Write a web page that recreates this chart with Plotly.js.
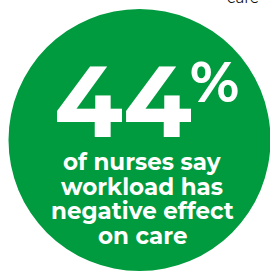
<!DOCTYPE html>
<html><head><meta charset="utf-8">
<script src="https://cdn.plot.ly/plotly-3.0.1.min.js"></script>
<style>html,body{margin:0;padding:0;background:#fff;}#chart{width:270px;height:274px;}</style>
</head><body><div id="chart"></div>
<script>
const statValue = [44];
const statUnit = ["%"];
const statLines = ["of nurses say", "workload has", "negative effect", "on care"];
const fragmentText = ["care"];

const green = "#009b3e";
const font = "Montserrat, 'Open Sans', Lato, sans-serif";

const annotations = [];
annotations.push({x: 123, y: 101, xref: 'x', yref: 'y', text: '<b>' + statValue[0] + '</b>', showarrow: false,
  font: {family: font, size: 100, color: '#fff', weight: 900}, xanchor: 'center', yanchor: 'middle'});
annotations.push({x: 214, y: 82, xref: 'x', yref: 'y', text: '<b>' + statUnit[0] + '</b>', showarrow: false,
  font: {family: font, size: 56, color: '#fff', weight: 900}, xanchor: 'center', yanchor: 'middle'});
statLines.forEach((t, i) => {
  annotations.push({x: 142, y: 162 + i * 24.7, xref: 'x', yref: 'y', text: '<b>' + t + '</b>', showarrow: false,
    font: {family: font, size: 23, color: '#fff'}, xanchor: 'center', yanchor: 'middle'});
});
annotations.push({x: 243 / 270, y: 1 + 2.5 / 274, xref: 'paper', yref: 'paper', text: fragmentText[0], showarrow: false,
  font: {family: font, size: 15, color: '#111'}, xanchor: 'center', yanchor: 'middle'});

Plotly.newPlot('chart', [{x: [0], y: [0], mode: 'markers', marker: {opacity: 0}, hoverinfo: 'skip', showlegend: false}], {
  width: 270, height: 274,
  margin: {l: 0, r: 0, t: 0, b: 0},
  paper_bgcolor: '#fff', plot_bgcolor: '#fff',
  xaxis: {range: [0, 270], visible: false, fixedrange: true},
  yaxis: {range: [274, 0], visible: false, fixedrange: true},
  shapes: [{type: 'circle', xref: 'x', yref: 'y', x0: 8.5, x1: 270.5, y0: 9, y1: 271,
    fillcolor: green, line: {width: 0}, layer: 'below'}],
  annotations: annotations,
  showlegend: false
}, {staticPlot: true, displayModeBar: false});
</script></body></html>
